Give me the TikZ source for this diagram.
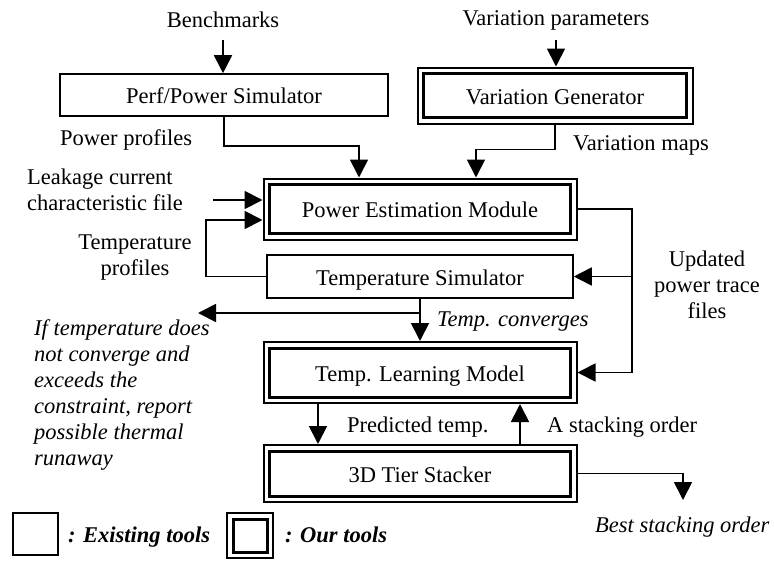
\documentclass[tikz,border=0pt]{standalone}
\usepackage{fontspec}
\setmainfont{Liberation Serif}
\usetikzlibrary{arrows.meta}
\begin{document}
\begin{tikzpicture}[x=1pt,y=-1pt,
  font=\fontsize{22.5}{26}\selectfont,
  lbl/.style={inner sep=0pt},
  it/.style={font=\fontsize{22.5}{26}\selectfont\itshape},
  bi/.style={font=\fontsize{22.5}{26}\selectfont\bfseries\itshape},
  existing/.style={draw, line width=1.6pt, inner sep=0pt, text height=17pt, text depth=0pt},
  ours/.style={draw, line width=2pt, inner sep=0pt, text height=17pt, text depth=0pt,
    path picture={\draw[line width=3pt]
      ([shift={(6pt,-6pt)}]path picture bounding box.north west) rectangle
      ([shift={(-6pt,6pt)}]path picture bounding box.south east);}},
  arr/.style={line width=1.8pt, -{Triangle[length=18pt,width=18pt]}}]
\useasboundingbox (0,0) rectangle (774,560);

% tools
\node[existing, minimum width=328pt, minimum height=42pt] (perf) at (224,95) {Perf/Power Simulator};
\node[ours, minimum width=275pt, minimum height=56pt] (vg) at (555,95.5) {Variation Generator};
\node[ours, minimum width=313pt, minimum height=61pt] (pem) at (420,209) {Power Estimation Module};
\node[existing, minimum width=306pt, minimum height=43pt] (ts) at (420,276.5) {Temperature Simulator};
\node[ours, minimum width=313pt, minimum height=61pt] (tlm) at (420,372.5) {Temp. Learning Model};
\node[ours, minimum width=313pt, minimum height=57pt] (st) at (420,473.5) {3D Tier Stacker};

% labels (multi-line labels are placed by the baseline of their last line)
\node[lbl, anchor=base] (bench) at (223,27) {Benchmarks};
\node[lbl, anchor=base] (vp) at (556,25) {Variation parameters};
\node[lbl, anchor=base west] (pp) at (60,145) {Power profiles};
\node[lbl, anchor=base west] (vm) at (573,150) {Variation maps};
\node[lbl, anchor=base west, align=left] (leak) at (27,210) {Leakage current\\characteristic file};
\node[lbl, anchor=base, align=center] (tp) at (135,275) {Temperature\\profiles};
\node[lbl, anchor=base, align=center] (upd) at (707,318) {Updated\\power trace\\files};
\node[lbl, it, anchor=base west] (conv) at (437,326) {Temp. converges};
\node[lbl, it, anchor=base west, align=left] (runaway) at (34,465)
  {If temperature does\\not converge and\\exceeds the\\constraint, report\\possible thermal\\runaway};
\node[lbl, anchor=base west] (pt) at (347,432) {Predicted temp.};
\node[lbl, anchor=base west] (aso) at (547,432) {A stacking order};
\node[lbl, it, anchor=base west] (bso) at (595,532) {Best stacking order};

% legend
\node[existing, minimum width=45pt, minimum height=42pt] (lg1) at (35.5,534) {};
\node[lbl, bi, anchor=base west] (lg1t) at (68,542) {: Existing tools};
\node[ours, minimum width=46pt, minimum height=45pt] (lg2) at (250,535.5) {};
\node[lbl, bi, anchor=base west] (lg2t) at (285,542) {: Our tools};

% connectors
\coordinate (b0) at ([yshift=-13pt]bench.base);
\coordinate (v0) at ([yshift=-15pt]vp.base);
\coordinate (lk0) at (213,200);
\coordinate (bus) at (632,0);
\coordinate (fail) at (198,313);
\coordinate (best) at (683,500);

\draw[arr] (b0) -- (b0 |- perf.north);
\draw[arr] (v0) -- (v0 |- vg.north);
\draw[arr] (perf.south) -- ++(0,29) -| ([xshift=-61pt]pem.north);
\draw[arr] (vg.south) -- ++(0,25) -| ([xshift=56pt]pem.north);
\draw[arr] (lk0) -- (lk0 -| pem.west);
\draw[arr] (ts.west) -- ++(-60,0) |- ([yshift=-11pt]pem.west);
\draw[arr] (pem.east) -- (pem.east -| bus) |- (tlm.east);
\draw[arr] (ts.east -| bus) -- (ts.east);
\draw[arr] (ts.south) -- (tlm.north);
\draw[arr] (ts.south |- fail) -- (fail);
\draw[arr] ([xshift=-102pt]tlm.south) -- ([xshift=-102pt]st.north);
\draw[arr] ([xshift=100pt]st.north) -- ([xshift=100pt]tlm.south);
\draw[arr] (st.east) -| (best);
\end{tikzpicture}
\end{document}
